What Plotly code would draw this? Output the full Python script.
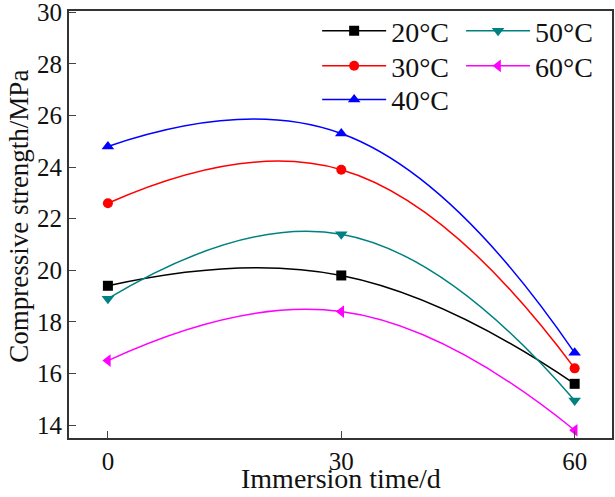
import plotly.graph_objects as go

days = [0, 30, 60]
series_names = ["20°C", "30°C", "40°C", "50°C", "60°C"]
s20 = [19.4, 19.8, 15.6]
s30 = [22.6, 23.9, 16.2]
s40 = [24.8, 25.3, 16.8]
s50 = [18.9, 21.4, 14.95]
s60 = [16.5, 18.4, 13.8]
x_ticks = [0, 30, 60]
y_ticks = [14, 16, 18, 20, 22, 24, 26, 28, 30]

values = {"20°C": s20, "30°C": s30, "40°C": s40, "50°C": s50, "60°C": s60}
styles = {
    "20°C": ("#000000", "square", 10),
    "30°C": ("#FF0000", "circle", 10),
    "40°C": ("#0000FF", "triangle-up", 11),
    "50°C": ("#008080", "triangle-down", 11),
    "60°C": ("#FF00FF", "triangle-left", 11),
}
# legend slot per series: (legend id, x paper, y paper)
legend_slots = {
    "20°C": ("legend", 0.457, 0.953),
    "30°C": ("legend2", 0.457, 0.871),
    "40°C": ("legend3", 0.457, 0.792),
    "50°C": ("legend4", 0.722, 0.953),
    "60°C": ("legend5", 0.722, 0.871),
}

font = "Liberation Serif, Times New Roman, serif"
fig = go.Figure()
legend_layout = {}
for name in series_names:
    color, sym, msize = styles[name]
    leg, lx, ly = legend_slots[name]
    fig.add_trace(go.Scatter(
        x=days, y=values[name], name=name, mode="lines+markers",
        line=dict(color=color, width=1.5, shape="spline", smoothing=1.3),
        marker=dict(symbol=sym, size=msize, color=color),
        legend=leg,
    ))
    legend_layout[leg] = dict(
        orientation="v", x=lx, y=ly, xanchor="left", yanchor="middle",
        itemwidth=64, bgcolor="rgba(0,0,0,0)",
        font=dict(size=28, family=font, color="#111111"),
    )

fig.add_annotation(xref="paper", yref="paper", x=0.5, y=-0.095,
                   xanchor="center", yanchor="middle", showarrow=False,
                   text="Immersion time/d", font=dict(size=28, family=font, color="#111111"))
fig.add_annotation(xref="paper", yref="paper", x=-0.092, y=0.518,
                   xanchor="center", yanchor="middle", showarrow=False, textangle=-90,
                   text="Compressive strength/MPa", font=dict(size=27, family=font, color="#111111"))

fig.update_layout(
    width=615, height=497,
    margin=dict(l=69, r=3, t=11, b=59, autoexpand=False),
    paper_bgcolor="white", plot_bgcolor="white",
    font=dict(family=font, size=25, color="#111111"),
    showlegend=True,
    **legend_layout,
    xaxis=dict(
        range=[-5, 64.8], tickvals=x_ticks, ticks="inside", ticklen=7,
        showline=True, linecolor="#333333", linewidth=2, mirror=True,
        showgrid=False, zeroline=False, automargin=False,
        ticklabeloverflow="allow",
    ),
    yaxis=dict(
        range=[13.5, 30.05], tickvals=y_ticks, ticks="inside", ticklen=7,
        showline=True, linecolor="#333333", linewidth=2, mirror=True,
        showgrid=False, zeroline=False, automargin=False,
        ticklabeloverflow="allow",
    ),
)
fig.write_html("out.html", config={"displayModeBar": False},
               post_script="document.body.style.margin='0px';")
